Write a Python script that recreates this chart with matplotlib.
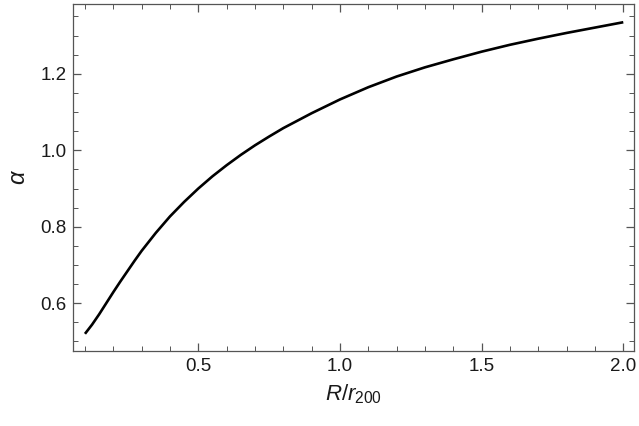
import matplotlib
matplotlib.use("Agg")
import matplotlib.pyplot as plt
from matplotlib.ticker import MultipleLocator, FormatStrFormatter

plt.rcParams['font.family'] = ['Liberation Sans', 'DejaVu Sans']
plt.rcParams['mathtext.fontset'] = 'custom'
plt.rcParams['mathtext.rm'] = 'Liberation Sans'
plt.rcParams['mathtext.it'] = 'Liberation Sans:italic'

r_over_r200 = [0.10, 0.125, 0.15, 0.175, 0.20, 0.225, 0.25, 0.275, 0.30, 0.35, 0.40, 0.45, 0.50,
               0.55, 0.60, 0.65, 0.70, 0.75, 0.80, 0.90, 1.00, 1.10, 1.20, 1.30, 1.40, 1.50,
               1.60, 1.70, 1.80, 1.90, 2.00]
alpha = [0.520, 0.544, 0.571, 0.600, 0.629, 0.657, 0.684, 0.711, 0.737, 0.784, 0.827, 0.865, 0.900,
         0.932, 0.961, 0.988, 1.013, 1.036, 1.058, 1.097, 1.133, 1.165, 1.193, 1.217, 1.238, 1.258,
         1.276, 1.292, 1.307, 1.321, 1.335]

fig = plt.figure(figsize=(6.39, 4.26), dpi=100)
ax = fig.add_axes([0.1147, 0.176, 0.878, 0.814])
ax.plot(r_over_r200, alpha, color='black', lw=1.9, solid_capstyle='butt', solid_joinstyle='round')

ax.set_xlim(0.0588, 2.039)
ax.set_ylim(0.475, 1.382)
ax.xaxis.set_major_locator(MultipleLocator(0.5))
ax.xaxis.set_minor_locator(MultipleLocator(0.1))
ax.yaxis.set_major_locator(MultipleLocator(0.2))
ax.yaxis.set_minor_locator(MultipleLocator(0.05))
ax.xaxis.set_major_formatter(FormatStrFormatter('%.1f'))
ax.yaxis.set_major_formatter(FormatStrFormatter('%.1f'))

frame_col = '#555555'
for s in ax.spines.values():
    s.set_color(frame_col)
    s.set_linewidth(0.9)
ax.tick_params(which='both', direction='in', top=True, right=True, color=frame_col,
               labelsize=13.5, labelcolor='#1a1a1a')
ax.tick_params(which='major', length=6, width=0.9, pad=5)
ax.tick_params(which='minor', length=3.5, width=0.7)

ax.set_xlabel(r'$R/r_{200}$', fontsize=16, color='#1a1a1a', labelpad=5)
ax.set_ylabel('α', fontsize=17, style='italic', color='#1a1a1a', labelpad=8)

fig.savefig('out.png', dpi=100)
